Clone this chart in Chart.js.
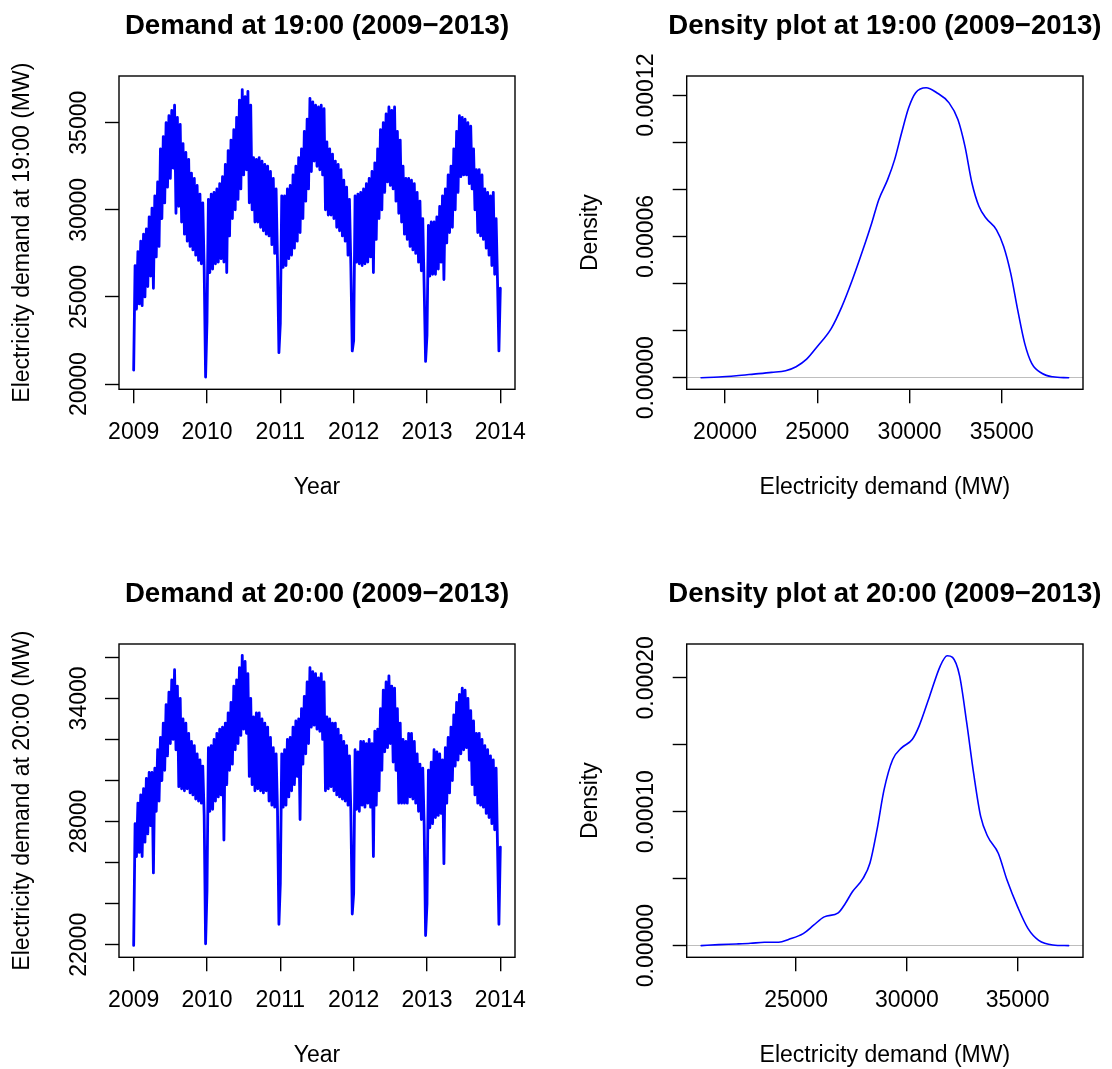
<!DOCTYPE html>
<html>
<head>
<meta charset="utf-8">
<title>Electricity demand at 19:00 and 20:00</title>
<script src="https://cdn.jsdelivr.net/npm/chart.js@4.4.1/dist/chart.umd.min.js"></script>
<style>
  html, body { margin: 0; padding: 0; background: #fff; overflow: hidden; }
  body { width: 1112px; height: 1069px; position: relative; }
  .panel { position: absolute; width: 556px; height: 568px; }
</style>
</head>
<body>
<div class="panel" style="left:0;top:0"><canvas id="ts19" width="556" height="568"></canvas></div>
<div class="panel" style="left:556px;top:0"><canvas id="dens19" width="556" height="568"></canvas></div>
<div class="panel" style="left:0;top:568px"><canvas id="ts20" width="556" height="568"></canvas></div>
<div class="panel" style="left:556px;top:568px"><canvas id="dens20" width="556" height="568"></canvas></div>
<script>
const FONT = '"Liberation Sans", Arial, Helvetica, sans-serif';
const PANEL_H = 568;
const AXIS_SIZE = 23;
const TITLE_SIZE = 27.6;

// weekly readings, 52 per year, from the start of 2009 to the start of 2014
const weeksPerYear = 52;
const yearTicks = [2009, 2010, 2011, 2012, 2013, 2014];
const yearLabels = ['2009', '2010', '2011', '2012', '2013', '2014'];

const demand19 = [
    // 2009
    20800, 26800, 24300, 27600, 24600, 28200, 24500, 28600, 25000, 28900,
    25600, 29600, 26200, 30100, 25500, 30800, 27300, 31600, 27900, 33500,
    29500, 34200, 30400, 35000, 31300, 35400, 31800, 35700, 32400, 36000,
    29800, 35300, 30200, 34900, 29300, 33800, 28600, 33300, 28200, 32900,
    27900, 32100, 27700, 31800, 27400, 31400, 27100, 30900, 26900, 30400,
    26600, 20400,
    // 2010
    23600, 30600, 26400, 30900, 26600, 31000, 26900, 31200, 27000, 31500,
    27200, 31900, 27000, 32600, 26400, 33400, 28500, 34000, 29500, 34600,
    30000, 35300, 30600, 36300, 31200, 36900, 32000, 36500, 32300, 36800,
    30400, 36000, 30000, 33000, 29300, 32900, 29300, 33000, 29000, 32800,
    28800, 32600, 28600, 32500, 28500, 32200, 28000, 31800, 27500, 31200,
    27000, 21800,
    // 2011
    23500, 30800, 26700, 30800, 26800, 31200, 27200, 31400, 27400, 32000,
    27800, 32500, 28200, 33000, 28700, 33500, 29500, 34500, 30500, 35200,
    31200, 36400, 32200, 36200, 32800, 36000, 32500, 35900, 32300, 36000,
    32000, 35800, 30000, 33900, 29700, 33500, 29700, 33200, 29500, 32800,
    29000, 32600, 28800, 32300, 28500, 31700, 28200, 31300, 27400, 30600,
    26800, 21900,
    // 2012
    22500, 30800, 27000, 30900, 26900, 31000, 26800, 31200, 26900, 31500,
    27000, 31800, 27300, 32200, 26400, 32700, 28300, 33500, 29500, 34600,
    30000, 35000, 31000, 35500, 31600, 35900, 31400, 35700, 31200, 35900,
    30500, 34500, 29800, 34000, 29300, 32500, 28600, 31800, 28300, 31800,
    27900, 31700, 27700, 31500, 27500, 31000, 27000, 30500, 26500, 29500,
    25500, 21300,
    // 2013
    22800, 29100, 26200, 29300, 26300, 29300, 26300, 29600, 26600, 30200,
    27000, 30800, 26000, 31200, 28100, 32000, 28700, 32500, 29000, 33500,
    30000, 34500, 31000, 35400, 31900, 35300, 32000, 35200, 32000, 35000,
    31500, 34800, 31200, 33500, 30000, 32300, 28700, 32300, 28500, 32000,
    28300, 31200, 27800, 31000, 27400, 30800, 26800, 31000, 26300, 29500,
    25900, 21900,
    // 2014-01-01
    25500
];

const demand20 = [
    // 2009
    21970, 27900, 26300, 28900, 26500, 29300, 26300, 29600, 27000, 30100,
    27400, 30400, 27800, 30400, 25500, 30600, 28500, 31500, 29000, 32100,
    30000, 32800, 30500, 33700, 31200, 34300, 31800, 34900, 32000, 35400,
    31500, 34600, 29700, 34000, 29600, 33000, 29500, 32800, 29600, 32300,
    29400, 31900, 29300, 31700, 29100, 31300, 29000, 31000, 28900, 30700,
    28300, 22050,
    // 2010
    24650, 31600, 28500, 31700, 28600, 32000, 29000, 32300, 29200, 32500,
    29300, 32600, 27100, 32800, 29800, 33300, 30500, 33800, 30800, 34600,
    31500, 34900, 31800, 35500, 32200, 36100, 32500, 35800, 32300, 35200,
    30200, 34000, 29800, 33100, 29500, 33300, 29600, 33300, 29500, 33000,
    29400, 32800, 29500, 32600, 29000, 32100, 28800, 31600, 28700, 31300,
    28500, 23000,
    // 2011
    25000, 31300, 28700, 31500, 28800, 32000, 29200, 32100, 29500, 32600,
    29800, 32900, 30200, 33000, 28100, 33500, 30800, 34100, 31300, 34800,
    31800, 35500, 32600, 35300, 32700, 35200, 32500, 35000, 32400, 35200,
    32000, 34800, 29500, 33100, 29600, 33000, 29700, 32800, 29500, 32800,
    29300, 32500, 29200, 32200, 29100, 31900, 29000, 31700, 28800, 31200,
    28500, 23500,
    // 2012
    24500, 31500, 28600, 31400, 28500, 31900, 28800, 31900, 28700, 31800,
    28900, 32000, 28700, 31800, 26300, 32400, 28800, 32500, 29500, 33500,
    30500, 34400, 31400, 34800, 31600, 35100, 31800, 34600, 30900, 34500,
    30500, 33500, 28900, 32800, 28900, 32000, 28900, 31900, 28900, 32300,
    29200, 32300, 29100, 31900, 28900, 31300, 28500, 30800, 28100, 30600,
    27800, 22450,
    // 2013
    24000, 30500, 27700, 30900, 27900, 31500, 28200, 31400, 28300, 31300,
    28400, 31000, 25950, 31600, 28900, 32100, 29400, 32600, 30000, 33200,
    30700, 33800, 31000, 34200, 31300, 34500, 31500, 34400, 31600, 34000,
    31000, 33400, 29800, 32900, 29300, 32300, 28900, 32300, 28800, 32000,
    28700, 31700, 28400, 31500, 28200, 31200, 27900, 31000, 27600, 30600,
    26800, 23000,
    // 2014-01-01
    26760
];

// kernel density estimates
const density19X = [18700, 19660, 20610, 21560, 22520, 23280, 23850, 24420, 24990, 25760,
    26330, 26900, 27470, 27950, 28330, 28810, 29190, 29570, 29950, 30330,
    30900, 31470, 32140, 32620, 33000, 33380, 33760, 34140, 34710, 35100,
    35480, 35860, 36240, 36620, 37190, 37760, 38620];
const density19Y = [0, 0.0000003, 0.00000085, 0.00000156, 0.0000023, 0.000003, 0.0000047, 0.0000079, 0.0000132, 0.000021,
    0.0000302, 0.0000416, 0.0000543, 0.0000657, 0.0000756, 0.0000841, 0.0000926, 0.000104, 0.0001146, 0.000121,
    0.0001231, 0.000121, 0.0001167, 0.0001096, 0.0000983, 0.0000827, 0.0000728, 0.0000678, 0.0000628, 0.0000557,
    0.0000444, 0.0000288, 0.0000146, 0.0000061, 0.0000018, 0.0000004, 0];

const density20X = [20715, 21510, 22300, 22940, 23570, 24210, 24680, 25320, 25790, 26270,
    26900, 27220, 27540, 28020, 28330, 28650, 28970, 29360, 29760, 30240,
    30550, 31030, 31510, 31820, 32060, 32380, 32700, 33010, 33330, 33650,
    34125, 34520, 35000, 35470, 35950, 36590, 37300];
const density20Y = [0, 0.00000075, 0.00000125, 0.00000175, 0.0000025, 0.0000025, 0.00000475, 0.000009, 0.00001525, 0.0000215,
    0.0000245, 0.0000315, 0.00004025, 0.00005025, 0.0000615, 0.0000865, 0.0001165, 0.000139, 0.00014775, 0.000154,
    0.000164, 0.0001865, 0.000209, 0.0002165, 0.00021525, 0.0002015, 0.0001665, 0.000129, 0.0000965, 0.0000815,
    0.000069, 0.000049, 0.000029, 0.00001275, 0.000004, 0.0000005, 0];

// axis ticks (R leaves out labels that would collide)
const ticks19 = [20000, 25000, 30000, 35000];
const ticks19Labels = ['20000', '25000', '30000', '35000'];
const ticks20 = [22000, 24000, 26000, 28000, 30000, 32000, 34000, 36000];
const ticks20Labels = ['22000', '', '', '28000', '', '', '34000', ''];
const densTicks19 = [0, 0.00002, 0.00004, 0.00006, 0.00008, 0.00010, 0.00012];
const densTicks19Labels = ['0.00000', '', '', '0.00006', '', '', '0.00012'];
const densTicks20 = [0, 0.00005, 0.00010, 0.00015, 0.00020];
const densTicks20Labels = ['0.00000', '', '0.00010', '', '0.00020'];
const mwTicks19 = [20000, 25000, 30000, 35000];
const mwTicks20 = [25000, 30000, 35000];

// box around the plot region, like R's box()
const plotBox = {
    id: 'plotBox',
    afterDraw(chart) {
        const { ctx, chartArea: a } = chart;
        ctx.save();
        ctx.strokeStyle = '#000';
        ctx.lineWidth = 1.4;
        ctx.strokeRect(a.left, a.top, a.right - a.left, a.bottom - a.top);
        ctx.restore();
    }
};

// the main title is wider than the plot box; stop Chart.js squeezing it
const wideTitle = {
    id: 'wideTitle',
    afterLayout(chart) {
        const t = chart.titleBlock;
        if (t) {
            t.left -= 120;
            t.right += 120;
            t.width = t.right - t.left;
        }
    }
};
Chart.register(plotBox, wideTitle);
Chart.defaults.font.family = FONT;
Chart.defaults.color = '#000';

function labelPadding(boxLeft, centreX, labels) {
    const ctx = document.createElement('canvas').getContext('2d');
    ctx.font = AXIS_SIZE + 'px ' + FONT;
    const widest = Math.max(...labels.map(l => ctx.measureText(l).width));
    return boxLeft - 14 - centreX - widest / 2;
}

function weekly(values) {
    return values.map((v, i) => ({ x: 2009 + i / weeksPerYear, y: v }));
}

function pairs(xs, ys) {
    return xs.map((x, i) => ({ x: x, y: ys[i] }));
}

function makePanel(id, p) {
    const tickFont = { family: FONT, size: AXIS_SIZE };
    const titleTop = 9.5;
    return new Chart(document.getElementById(id), {
        type: 'line',
        data: {
            datasets: [{
                data: p.data,
                borderColor: '#0000ff',
                borderWidth: p.lineWidth,
                borderJoinStyle: 'round',
                borderCapStyle: 'round',
                pointRadius: 0,
                tension: 0,
                cubicInterpolationMode: p.smooth ? 'monotone' : 'default',
                fill: false
            }]
        },
        options: {
            responsive: false,
            animation: false,
            events: [],
            layout: { padding: { left: 0, top: 0, bottom: 0, right: 556 - p.boxRight } },
            plugins: {
                legend: { display: false },
                tooltip: { enabled: false },
                title: {
                    display: true,
                    text: p.title,
                    fullSize: false,
                    align: 'center',
                    color: '#000',
                    font: { family: FONT, size: TITLE_SIZE, weight: 'bold' },
                    padding: { top: titleTop, bottom: 76 - titleTop - TITLE_SIZE * 1.2 }
                }
            },
            scales: {
                x: {
                    type: 'linear',
                    min: p.xMin,
                    max: p.xMax,
                    afterBuildTicks: s => { s.ticks = p.xTicks.map(v => ({ value: v })); },
                    afterFit: s => { s.height = PANEL_H - 389.3; },
                    grid: { drawOnChartArea: false, drawTicks: true, tickLength: 14, color: '#000', lineWidth: 1.4 },
                    border: { display: false },
                    ticks: {
                        autoSkip: false, minRotation: 0, maxRotation: 0, padding: 15.9,
                        color: '#000', font: tickFont,
                        callback: (v, i) => p.xLabels[i]
                    },
                    title: {
                        display: true, text: p.xTitle, color: '#000',
                        font: tickFont, padding: { top: 0, bottom: 66.8 }
                    }
                },
                y: {
                    type: 'linear',
                    min: p.yMin,
                    max: p.yMax,
                    afterBuildTicks: s => { s.ticks = p.yTicks.map(v => ({ value: v })); },
                    afterFit: s => { s.width = p.boxLeft; },
                    grid: {
                        drawOnChartArea: !!p.zeroLine,
                        drawTicks: true,
                        tickLength: 14,
                        color: c => (p.zeroLine && c.tick && c.tick.value === 0) ? '#bebebe' : 'rgba(0,0,0,0)',
                        lineWidth: 1,
                        tickColor: '#000',
                        tickWidth: 1.4
                    },
                    border: { display: false },
                    ticks: {
                        autoSkip: false, minRotation: 90, maxRotation: 90,
                        crossAlign: 'center',
                        padding: labelPadding(p.boxLeft, p.boxLeft - 39.6, p.yLabels),
                        color: '#000', font: tickFont,
                        callback: (v, i) => p.yLabels[i]
                    },
                    title: {
                        display: true, text: p.yTitle, color: '#000',
                        font: tickFont, padding: { top: p.boxLeft - 96.5 - 13.8, bottom: 0 }
                    }
                }
            }
        }
    });
}

makePanel('ts19', {
    title: 'Demand at 19:00 (2009\u22122013)',
    data: weekly(demand19), lineWidth: 2.8, smooth: false,
    boxLeft: 119, boxRight: 515,
    xMin: 2008.8, xMax: 2014.2, xTicks: yearTicks, xLabels: yearLabels, xTitle: 'Year',
    yMin: 19700, yMax: 37680, yTicks: ticks19, yLabels: ticks19Labels,
    yTitle: 'Electricity demand at 19:00 (MW)'
});

makePanel('dens19', {
    title: 'Density plot at 19:00 (2009\u22122013)',
    data: pairs(density19X, density19Y), lineWidth: 1.6, smooth: true, zeroLine: true,
    boxLeft: 130.7, boxRight: 527,
    xMin: 17920, xMax: 39400, xTicks: mwTicks19, xLabels: mwTicks19.map(String), xTitle: 'Electricity demand (MW)',
    yMin: -0.0000049, yMax: 0.0001281, yTicks: densTicks19, yLabels: densTicks19Labels,
    yTitle: 'Density'
});

makePanel('ts20', {
    title: 'Demand at 20:00 (2009\u22122013)',
    data: weekly(demand20), lineWidth: 2.8, smooth: false,
    boxLeft: 119, boxRight: 515,
    xMin: 2008.8, xMax: 2014.2, xTicks: yearTicks, xLabels: yearLabels, xTitle: 'Year',
    yMin: 21390, yMax: 36650, yTicks: ticks20, yLabels: ticks20Labels,
    yTitle: 'Electricity demand at 20:00 (MW)'
});

makePanel('dens20', {
    title: 'Density plot at 20:00 (2009\u22122013)',
    data: pairs(density20X, density20Y), lineWidth: 1.6, smooth: true, zeroLine: true,
    boxLeft: 130.7, boxRight: 527,
    xMin: 20060, xMax: 37950, xTicks: mwTicks20, xLabels: mwTicks20.map(String), xTitle: 'Electricity demand (MW)',
    yMin: -0.0000087, yMax: 0.0002253, yTicks: densTicks20, yLabels: densTicks20Labels,
    yTitle: 'Density'
});
</script>
</body>
</html>
